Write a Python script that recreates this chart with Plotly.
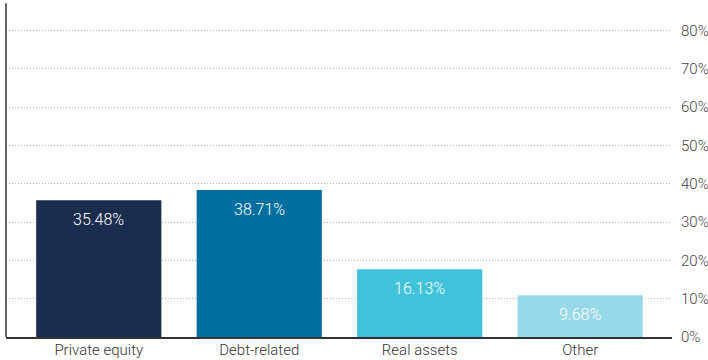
import plotly.graph_objects as go

categories = ["Private equity", "Debt-related", "Real assets", "Other"]
bar_heights = [35.7, 38.4, 17.7, 10.9]          # as drawn in the picture (%)
value_labels = ["35.48%", "38.71%", "16.13%", "9.68%"]
bar_colors = ["#1b2d4e", "#006f9f", "#41c2db", "#97d9e8"]
y_ticks = [0, 10, 20, 30, 40, 50, 60, 70, 80]
y_tick_labels = [f"{v}%" for v in y_ticks]

FONT = "Roboto, Liberation Sans, sans-serif"

fig = go.Figure()
fig.add_trace(go.Bar(
    x=categories, y=bar_heights,
    marker=dict(color=bar_colors, line=dict(width=0)),
    hoverinfo="skip",
))

for c, h, lab in zip(categories, bar_heights, value_labels):
    fig.add_annotation(x=c, y=h, text=lab, showarrow=False,
                       yanchor="top", yshift=-8,
                       font=dict(family=FONT, size=16, color="white", weight=300))

# left frame line
fig.add_shape(type="line", xref="paper", yref="paper", x0=0, x1=0, y0=0, y1=0.99,
              line=dict(color="#333333", width=1.5))

fig.update_layout(
    width=708, height=360,
    margin=dict(l=6, r=36, t=0, b=23),
    paper_bgcolor="white", plot_bgcolor="white",
    bargap=0.22,
    showlegend=False,
    font=dict(family=FONT, size=15, color="#333333"),
    xaxis=dict(range=[-0.578, 3.572], showline=True, linecolor="#333333", linewidth=1.5,
               showgrid=False, ticks="", ticklabelstandoff=-2,
               tickfont=dict(family=FONT, size=15, color="#333333", weight=300),
               fixedrange=True),
    yaxis=dict(range=[0, 88], side="right", tickvals=y_ticks, ticktext=y_tick_labels,
               showgrid=True, gridcolor="#b5b5b5", griddash="1px,2px", gridwidth=1,
               zeroline=False, showline=False, ticks="", ticklabelstandoff=8,
               tickfont=dict(family=FONT, size=15, color="#444444", weight=300),
               fixedrange=True),
)

fig.write_html("out.html", config={"displayModeBar": False, "staticPlot": True},
               post_script="document.body.style.margin='0';document.body.style.overflow='hidden';")
